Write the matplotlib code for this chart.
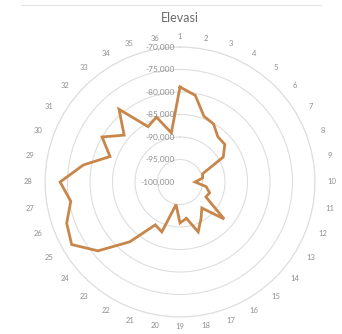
import numpy as np
import matplotlib.pyplot as plt
from matplotlib.lines import Line2D

plt.rcParams['font.family'] = ['Lato', 'DejaVu Sans']

# categories 1..36 around the radar, elevation values
categories = [str(i) for i in range(1, 37)]
elevasi = [
    -78900, -80450, -84450, -85100, -86900, -87000, -88900, -94650, -94900, -96650,
    -94100, -93000, -93350, -87200, -92450, -90650, -88200, -91800, -90900, -94900,
    -88200, -89000, -82650, -76200, -72200, -73200, -75350, -73350, -78200, -83450,
    -80000, -83800, -78900, -85800, -84650, -88900,
]
ring_values = [-100000, -95000, -90000, -85000, -80000, -75000, -70000]
ring_labels = ['-100,000', '-95,000', '-90,000', '-85,000', '-80,000', '-75,000', '-70,000']

fig = plt.figure(figsize=(3.42, 3.34), dpi=100)
ax = fig.add_axes([0.1316, 0.0509, 0.7895, 0.8084], projection='polar')
ax.set_theta_zero_location('N')
ax.set_theta_direction(-1)
ax.set_ylim(ring_values[0], ring_values[-1])

angles = np.linspace(0, 2 * np.pi, len(categories), endpoint=False)
ax.plot(np.append(angles, angles[0]), elevasi + elevasi[:1],
        color='#C8864A', lw=2, solid_joinstyle='miter', zorder=3)

# circular gridlines only, no spokes
ax.set_yticks(ring_values[1:])
ax.set_yticklabels([])
ax.yaxis.grid(True, color='#dedede', lw=0.8)
ax.xaxis.grid(False)
ax.set_xticks([])
ax.spines['polar'].set_color('#dedede')
ax.spines['polar'].set_linewidth(0.8)

# value labels along the vertical axis
for v, lab in zip(ring_values, ring_labels):
    ax.annotate(lab, xy=(0, v), xytext=(-4, 0), textcoords='offset points',
                ha='right', va='center', fontsize=6, color='#8f8f8f', zorder=4)

# category labels outside the outer ring (offset in pixels -> points)
for a, lab in zip(angles, categories):
    r = 145 + 7 * abs(np.sin(a))
    ax.annotate(lab, xy=(0, ring_values[0]), xytext=(r * np.sin(a) * 0.72, r * np.cos(a) * 0.72),
                textcoords='offset points', ha='center', va='center',
                fontsize=5.5, color='#8f8f8f', annotation_clip=False)

fig.text(0.526, 0.946, 'Elevasi', ha='center', va='center', fontsize=9, color='#6b6b6b')
fig.add_artist(Line2D([0.06, 0.94], [0.985, 0.985], color='#e3e3e3', lw=0.8))

fig.savefig('out.png', dpi=100)
